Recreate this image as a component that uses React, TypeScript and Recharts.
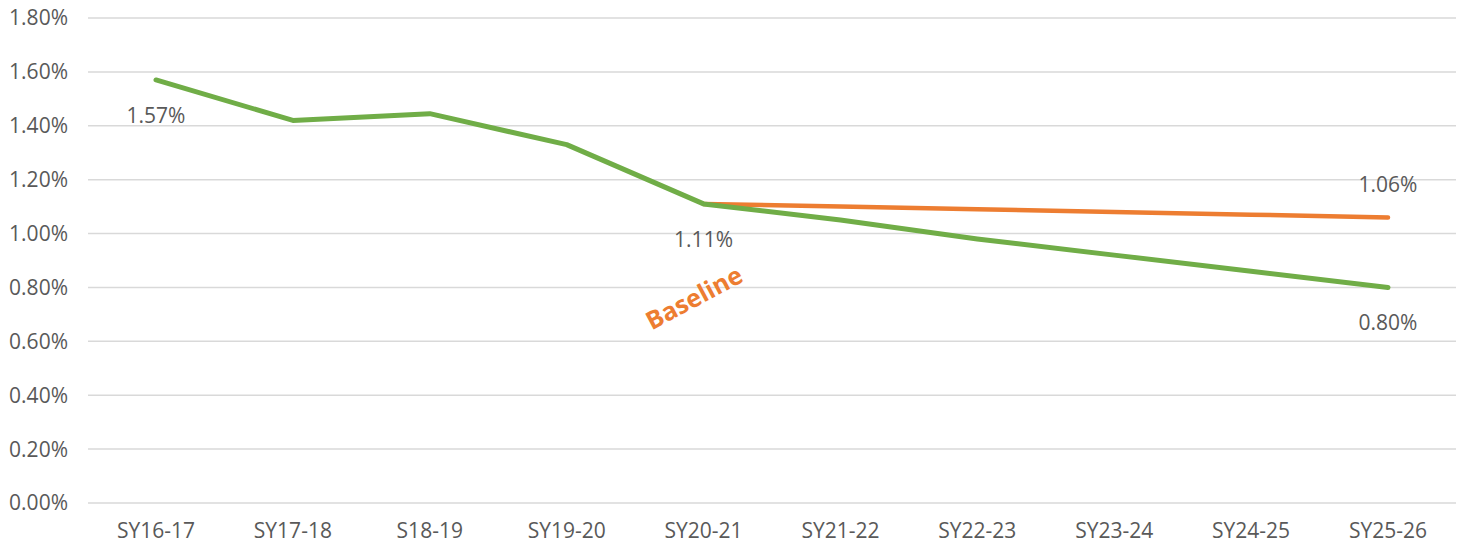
import {
  CartesianGrid,
  LabelList,
  Line,
  LineChart,
  ReferenceDot,
  XAxis,
  YAxis,
} from "recharts";

const years = [
  "SY16-17",
  "SY17-18",
  "S18-19",
  "SY19-20",
  "SY20-21",
  "SY21-22",
  "SY22-23",
  "SY23-24",
  "SY24-25",
  "SY25-26",
];
const planned = [1.57, 1.42, 1.445, 1.33, 1.11, 1.05, 0.98, 0.92, 0.86, 0.8];
const baseline = [null, null, null, null, 1.11, 1.1, 1.09, 1.08, 1.07, 1.06];
const yTicks = [0, 0.2, 0.4, 0.6, 0.8, 1.0, 1.2, 1.4, 1.6, 1.8];
const plannedLabelIdx = [0, 4, 9];
const baselineLabelIdx = [9];

const data = years.map((year, i) => ({
  year,
  planned: planned[i],
  baseline: baseline[i],
}));

const GREEN = "#70AD47";
const ORANGE = "#ED7D31";
const TEXT = "#595959";
const FONT = "'Open Sans', sans-serif";

const pct = (v: number) => `${v.toFixed(2)}%`;

function pointLabel(show: number[], dy: number) {
  return (props: any) => {
    const { x, y, value, index } = props;
    if (value == null || !show.includes(index)) return null;
    return (
      <text
        x={x}
        y={y + dy}
        textAnchor="middle"
        dominantBaseline="central"
        fill={TEXT}
        fontSize={21}
        fontFamily={FONT}
      >
        {pct(value)}
      </text>
    );
  };
}

export default function App() {
  return (
    <div style={{ position: "absolute", left: 0, top: 0 }}>
      <LineChart
        width={1463}
        height={548}
        data={data}
        margin={{ top: 18, right: 7, bottom: 0, left: 0 }}
        style={{ fontFamily: FONT }}
      >
        <CartesianGrid
          vertical={false}
          stroke="#D9D9D9"
          strokeWidth={1.5}
        />
        <XAxis
          dataKey="year"
          axisLine={false}
          tickLine={false}
          tickSize={0}
          tickMargin={20}
          height={45}
          interval={0}
          padding={{ left: 68, right: 68 }}
          tick={{ fill: TEXT, fontSize: 21, fontFamily: FONT }}
        />
        <YAxis
          domain={[0, 1.8]}
          ticks={yTicks}
          tickFormatter={pct}
          axisLine={false}
          tickLine={false}
          tickSize={0}
          tickMargin={20}
          width={88}
          interval={0}
          tick={{ fill: TEXT, fontSize: 21, fontFamily: FONT }}
        />
        <Line
          dataKey="baseline"
          stroke={ORANGE}
          strokeWidth={4.5}
          dot={false}
          activeDot={false}
          strokeLinecap="round"
          isAnimationActive={false}
        >
          <LabelList
            dataKey="baseline"
            content={pointLabel(baselineLabelIdx, -33)}
          />
        </Line>
        <Line
          dataKey="planned"
          stroke={GREEN}
          strokeWidth={5}
          dot={false}
          activeDot={false}
          strokeLinecap="round"
          strokeLinejoin="round"
          isAnimationActive={false}
        >
          <LabelList
            dataKey="planned"
            content={pointLabel(plannedLabelIdx, 35)}
          />
        </Line>
        <ReferenceDot
          x="SY20-21"
          y={0.765}
          r={0}
          fill="none"
          stroke="none"
          label={{
            content: (props: any) => {
              const vb = props.viewBox || {};
              const cx = (vb.x ?? 0) + (vb.width ?? 0) / 2 - 10;
              const cy = (vb.y ?? 0) + (vb.height ?? 0) / 2;
              return (
                <text
                  x={cx}
                  y={cy}
                  textAnchor="middle"
                  dominantBaseline="central"
                  transform={`rotate(-28, ${cx}, ${cy})`}
                  fill={ORANGE}
                  fontSize={25}
                  fontWeight="bold"
                  fontFamily={FONT}
                >
                  Baseline
                </text>
              );
            },
          }}
        />
      </LineChart>
    </div>
  );
}
